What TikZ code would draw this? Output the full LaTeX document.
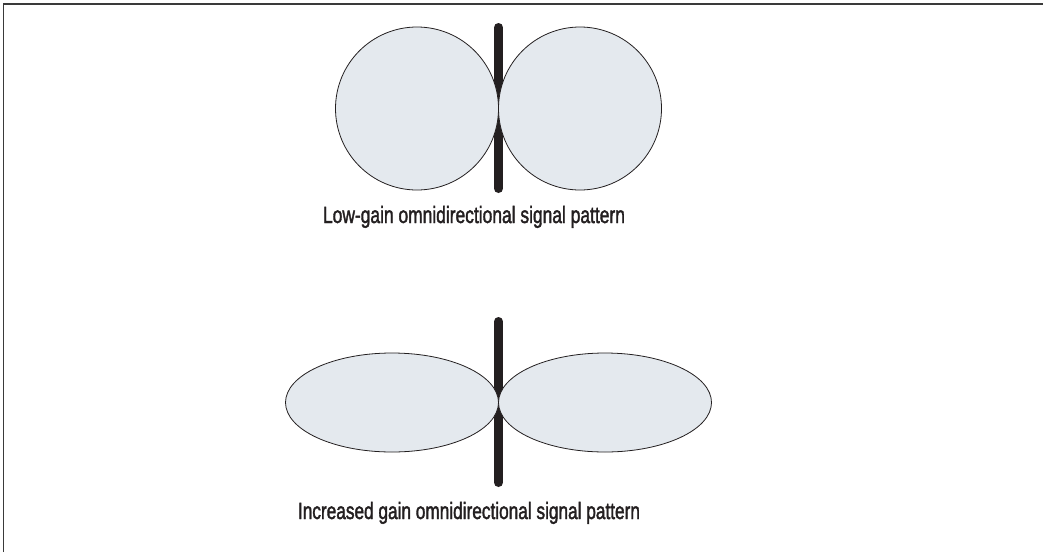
\documentclass[tikz,border=0pt]{standalone}
\usepackage{fontspec}
\usepackage{graphicx}
\setmainfont{Liberation Sans}
\newfontfamily\capfont[FakeBold=2]{Liberation Sans}
\usetikzlibrary{shapes.geometric}
\definecolor{lobe}{HTML}{E4E9EE}
\definecolor{ink}{HTML}{231F20}
\definecolor{frame}{HTML}{3A3A3A}
\tikzset{
  lobe/.style={draw=ink, line width=0.8pt, fill=lobe, inner sep=0pt, outer sep=0pt},
  mast/.style={draw=ink, line width=9pt, line cap=round},
  caption/.style={anchor=base, inner sep=0pt, text=ink, font=\capfont\fontsize{23.5}{26}\selectfont},
}
\begin{document}
\begin{tikzpicture}[x=1pt,y=-1pt]
\useasboundingbox (0,0) rectangle (1043,552);
% frame (top and left only)
\draw[frame, line width=1.6pt] (3.5,552) -- (3.5,4) -- (1043,4);
% top antenna
\coordinate (m1t) at (498.5,27.5);
\coordinate (m1b) at (498.5,188.5);
\draw[mast] (m1t) -- (m1b);
\node[lobe, circle, minimum size=163pt] (c1) at (417,108.5) {};
\node[lobe, circle, minimum size=163pt] (c2) at (580,108.5) {};
\node[caption] (t1) at (474,223) {\resizebox{302pt}{\height}{Low-gain omnidirectional signal pattern}};
% bottom antenna
\coordinate (m2t) at (498.5,321.5);
\coordinate (m2b) at (498.5,482.5);
\draw[mast] (m2t) -- (m2b);
\node[lobe, ellipse, minimum width=213pt, minimum height=99pt] (e1) at (392,402.5) {};
\node[lobe, ellipse, minimum width=213pt, minimum height=99pt] (e2) at (605,402.5) {};
\node[caption] (t2) at (469,519) {\resizebox{342pt}{\height}{Increased gain omnidirectional signal pattern}};
\end{tikzpicture}
\end{document}
